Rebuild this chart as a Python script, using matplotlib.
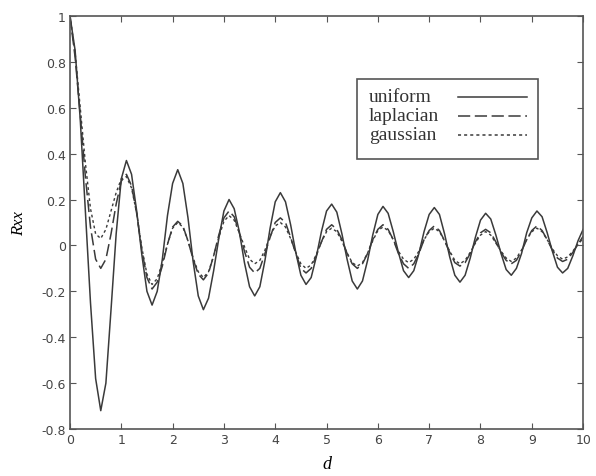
import numpy as np
import matplotlib.pyplot as plt
from matplotlib.patches import Rectangle

# lag values, step 0.1 from 0 to 10
d = np.round(np.arange(0, 101) * 0.1, 1)

uniform = [
    1.0, 0.85, 0.55, 0.15, -0.25, -0.58, -0.72, -0.6, -0.28, 0.05,
    0.29, 0.37, 0.31, 0.15, -0.04, -0.2, -0.26, -0.2, -0.06, 0.13,
    0.27, 0.33, 0.27, 0.12, -0.07, -0.22, -0.28, -0.23, -0.11, 0.03,
    0.15, 0.2, 0.16, 0.06, -0.075, -0.18, -0.22, -0.18, -0.065, 0.075,
    0.19, 0.23, 0.19, 0.09, -0.03, -0.13, -0.17, -0.14, -0.05, 0.06,
    0.15, 0.18, 0.145, 0.05, -0.06, -0.155, -0.19, -0.155, -0.065, 0.045,
    0.135, 0.17, 0.14, 0.06, -0.03, -0.11, -0.14, -0.11, -0.035, 0.06,
    0.135, 0.165, 0.135, 0.05, -0.05, -0.13, -0.16, -0.13, -0.055, 0.035,
    0.11, 0.14, 0.115, 0.045, -0.035, -0.105, -0.13, -0.1, -0.035, 0.055,
    0.12, 0.15, 0.125, 0.055, -0.025, -0.095, -0.12, -0.1, -0.045, 0.02,
    0.07,
]

laplacian = [
    1.0, 0.82, 0.57, 0.3, 0.08, -0.06, -0.1, -0.06, 0.05, 0.18,
    0.28, 0.31, 0.26, 0.14, -0.02, -0.14, -0.19, -0.16, -0.09, 0.005,
    0.08, 0.105, 0.085, 0.02, -0.06, -0.125, -0.15, -0.12, -0.045, 0.045,
    0.12, 0.15, 0.125, 0.055, -0.025, -0.095, -0.12, -0.1, -0.035, 0.035,
    0.1, 0.12, 0.1, 0.035, -0.035, -0.1, -0.12, -0.1, -0.045, 0.015,
    0.07, 0.09, 0.07, 0.025, -0.035, -0.08, -0.1, -0.08, -0.035, 0.025,
    0.07, 0.09, 0.07, 0.025, -0.035, -0.08, -0.1, -0.08, -0.035, 0.025,
    0.065, 0.085, 0.065, 0.02, -0.03, -0.075, -0.09, -0.075, -0.035, 0.015,
    0.055, 0.07, 0.055, 0.015, -0.03, -0.065, -0.08, -0.065, -0.025, 0.025,
    0.065, 0.085, 0.065, 0.025, -0.02, -0.055, -0.07, -0.06, -0.03, 0.005,
    0.04,
]

gaussian = [
    1.0, 0.84, 0.6, 0.36, 0.16, 0.05, 0.03, 0.07, 0.15, 0.23,
    0.29, 0.3, 0.25, 0.14, -0.01, -0.125, -0.17, -0.145, -0.075, 0.005,
    0.075, 0.1, 0.08, 0.02, -0.055, -0.115, -0.14, -0.115, -0.045, 0.035,
    0.105, 0.13, 0.11, 0.055, -0.005, -0.06, -0.08, -0.065, -0.02, 0.04,
    0.085, 0.1, 0.08, 0.03, -0.03, -0.08, -0.1, -0.085, -0.04, 0.015,
    0.06, 0.075, 0.06, 0.018, -0.033, -0.075, -0.09, -0.075, -0.033, 0.02,
    0.065, 0.08, 0.065, 0.025, -0.025, -0.06, -0.075, -0.06, -0.025, 0.025,
    0.06, 0.075, 0.06, 0.02, -0.025, -0.065, -0.08, -0.065, -0.03, 0.01,
    0.045, 0.06, 0.045, 0.01, -0.025, -0.055, -0.07, -0.055, -0.02, 0.025,
    0.06, 0.075, 0.06, 0.025, -0.015, -0.045, -0.06, -0.05, -0.025, 0.005,
    0.03,
]

xticks = list(range(0, 11))
yticks = [1, 0.8, 0.6, 0.4, 0.2, 0, -0.2, -0.4, -0.6, -0.8]
ytick_labels = ['1', '0.8', '0.6', '0.4', '0.2', '0', '-0.2', '-0.4', '-0.6', '-0.8']
names = ['uniform', 'laplacian', 'gaussian']

line_col = '#3a3a3a'
frame_col = '#555555'

fig = plt.figure(figsize=(5.96, 4.77), dpi=100)
ax = fig.add_axes([0.1174, 0.0985, 0.861, 0.866])

ax.plot(d, uniform, color=line_col, lw=1.1, linestyle='-')
ax.plot(d, laplacian, color=line_col, lw=1.1, linestyle=(0, (8, 3)))
ax.plot(d, gaussian, color=line_col, lw=1.0, linestyle=(0, (2, 2)))

ax.set_xlim(0, 10)
ax.set_ylim(-0.8, 1)
ax.set_xticks(xticks)
ax.set_yticks(yticks)
ax.set_yticklabels(ytick_labels)
ax.tick_params(direction='in', top=True, right=True, length=4, width=0.8,
               color=frame_col, labelsize=9, labelcolor='#444444', pad=3)
for s in ax.spines.values():
    s.set_color(frame_col)
    s.set_linewidth(1.2)

ax.set_xlabel('d', fontstyle='italic', family='Liberation Serif', fontsize=13,
              labelpad=6)
ax.set_ylabel('Rxx', fontstyle='italic', family='Liberation Serif', fontsize=12,
              labelpad=10)

# legend drawn by hand: labels on the left, line samples on the right
ax.add_patch(Rectangle((0.559, 0.654), 0.353, 0.193, transform=ax.transAxes,
                       facecolor='white', edgecolor=frame_col, lw=1.2, zorder=5))
rows = [0.804, 0.758, 0.712]
styles = ['-', (0, (8, 3)), (0, (2, 2))]
for name, yy, ls in zip(names, rows, styles):
    ax.text(0.582, yy, name, transform=ax.transAxes, va='center', ha='left',
            family='Liberation Serif', fontsize=14, color='#333333', zorder=6)
    ax.plot([0.756, 0.891], [yy, yy], transform=ax.transAxes, color=line_col,
            lw=1.1, linestyle=ls, zorder=6)

fig.savefig('out.png', dpi=100)
